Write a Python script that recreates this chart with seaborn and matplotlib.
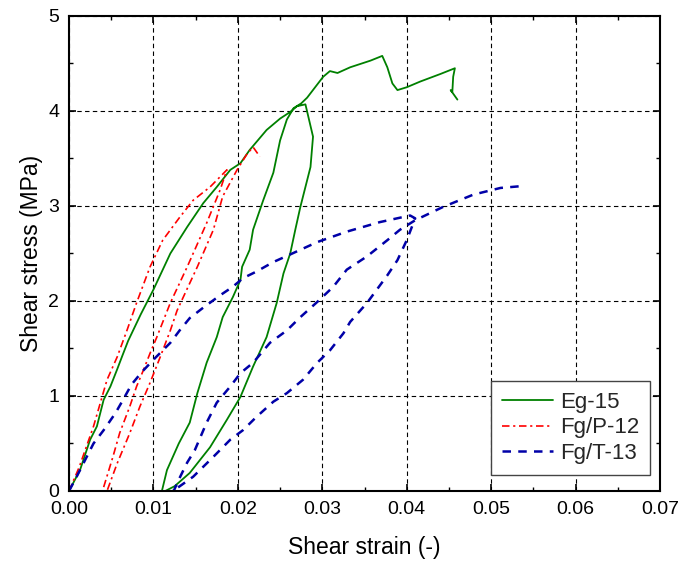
import numpy as np
import pandas as pd
import matplotlib
matplotlib.use("Agg")
import matplotlib.pyplot as plt
from matplotlib.ticker import MultipleLocator, FormatStrFormatter
import seaborn as sns

# ---- data ----
eg15_strain = [0, 0.0013, 0.0025, 0.0033, 0.0037, 0.0041, 0.0049, 0.0057, 0.0063, 0.0070,
               0.0085, 0.0100, 0.0120, 0.0140, 0.0159, 0.0175, 0.0191, 0.0203, 0.0214, 0.0234,
               0.0250, 0.0262, 0.0270, 0.0280,
               0.0289, 0.0286, 0.0274, 0.0268, 0.0262, 0.0254, 0.0246, 0.0234, 0.0218, 0.0203,
               0.0187, 0.0167, 0.0143, 0.0125, 0.0114,
               0.0110, 0.0116, 0.0130, 0.0143, 0.0152, 0.0163, 0.0175, 0.0182, 0.0194, 0.0203,
               0.0205, 0.0214, 0.0218, 0.0230, 0.0242, 0.0250, 0.0258, 0.0266, 0.0275,
               0.0282, 0.0301, 0.0309, 0.0318, 0.0333, 0.0357, 0.0371, 0.0377, 0.0383, 0.0389,
               0.0400, 0.0416, 0.0440, 0.0457, 0.0455, 0.0454, 0.0452, 0.0460]
eg15_stress = [0, 0.22, 0.54, 0.68, 0.82, 0.96, 1.10, 1.28, 1.42, 1.58,
               1.86, 2.12, 2.50, 2.78, 3.03, 3.20, 3.38, 3.45, 3.59, 3.80,
               3.92, 3.99, 4.05, 4.07,
               3.73, 3.41, 2.99, 2.75, 2.50, 2.29, 1.98, 1.62, 1.31, 0.99,
               0.75, 0.46, 0.19, 0.05, 0.00,
               0.00, 0.22, 0.50, 0.72, 1.03, 1.35, 1.62, 1.83, 2.04, 2.22,
               2.36, 2.54, 2.75, 3.06, 3.35, 3.69, 3.91, 4.03, 4.08,
               4.14, 4.36, 4.42, 4.40, 4.46, 4.53, 4.58, 4.46, 4.29, 4.22,
               4.25, 4.31, 4.39, 4.45, 4.36, 4.20, 4.22, 4.12]

fgp12_strain = [0, 0.0012, 0.0029, 0.0045, 0.0057, 0.0069, 0.0080, 0.0096, 0.0111, 0.0131,
                0.0147, 0.0167, 0.0187,
                0.0179, 0.0163, 0.0140, 0.0120, 0.0104, 0.0096, 0.0088, 0.0080, 0.0072, 0.0060,
                0.0052, 0.0041, 0.0040,
                0.0045, 0.0057, 0.0072, 0.0084, 0.0096, 0.0108, 0.0120, 0.0128, 0.0152, 0.0171,
                0.0182, 0.0199, 0.0211, 0.0218, 0.0226]
fgp12_stress = [0, 0.25, 0.68, 1.17, 1.41, 1.70, 1.98, 2.36, 2.64, 2.88,
                3.06, 3.20, 3.38,
                3.17, 2.82, 2.36, 1.98, 1.62, 1.45, 1.27, 1.10, 0.89, 0.61,
                0.36, 0.04, 0.00,
                0.00, 0.29, 0.61, 0.89, 1.14, 1.41, 1.69, 1.90, 2.36, 2.75,
                3.10, 3.38, 3.55, 3.62, 3.52]

fgt13_strain = [0, 0.0009, 0.0021, 0.0029, 0.0041, 0.0055, 0.0064, 0.0074, 0.0086, 0.0102,
                0.0120, 0.0131, 0.0143, 0.0159, 0.0179, 0.0194, 0.0206, 0.0222, 0.0242, 0.0262,
                0.0294, 0.0329, 0.0368, 0.0404, 0.0410,
                0.0400, 0.0389, 0.0377, 0.0353, 0.0333, 0.0325, 0.0309, 0.0294, 0.0277, 0.0258,
                0.0242, 0.0222, 0.0206, 0.0191, 0.0171, 0.0147, 0.0128, 0.0122,
                0.0124, 0.0130, 0.0140, 0.0149, 0.0163, 0.0175, 0.0191, 0.0203, 0.0218, 0.0238,
                0.0258, 0.0274, 0.0294, 0.0313, 0.0329, 0.0353, 0.0377, 0.0392, 0.0410,
                0.0443, 0.0479, 0.0511, 0.0537]
fgt13_stress = [0, 0.15, 0.36, 0.50, 0.64, 0.82, 0.96, 1.12, 1.25, 1.40,
                1.56, 1.69, 1.82, 1.93, 2.06, 2.15, 2.24, 2.31, 2.41, 2.49,
                2.62, 2.73, 2.83, 2.90, 2.87,
                2.64, 2.43, 2.27, 1.98, 1.78, 1.66, 1.48, 1.35, 1.17, 1.03,
                0.94, 0.78, 0.64, 0.54, 0.36, 0.15, 0.03, 0.00,
                0.00, 0.12, 0.30, 0.43, 0.72, 0.93, 1.10, 1.24, 1.35, 1.56,
                1.69, 1.83, 1.99, 2.15, 2.33, 2.47, 2.64, 2.75, 2.85,
                2.99, 3.12, 3.19, 3.21]

series_names = ["Eg-15", "Fg/P-12", "Fg/T-13"]
x_ticks = [0.00, 0.01, 0.02, 0.03, 0.04, 0.05, 0.06, 0.07]
y_ticks = [0, 1, 2, 3, 4, 5]

sns.set_theme(style="white")
plt.rcParams['font.family'] = ['Liberation Sans', 'DejaVu Sans']

fig = plt.figure(figsize=(6.78, 5.61), dpi=100)
ax = fig.add_axes([0.1018, 0.1248, 0.8717, 0.8467])

styles = [
    dict(color="#008000", linestyle="-", linewidth=1.3),
    dict(color="#ff0000", linestyle=(0, (4.5, 2.2, 1.3, 2.2)), linewidth=1.2),
    dict(color="#0000a8", linestyle=(0, (3.4, 2.9)), linewidth=1.8),
]
datasets = [(eg15_strain, eg15_stress), (fgp12_strain, fgp12_stress), (fgt13_strain, fgt13_stress)]

for name, (xs, ys), st in zip(series_names, datasets, styles):
    df = pd.DataFrame({"strain": xs, "stress": ys})
    sns.lineplot(data=df, x="strain", y="stress", sort=False, estimator=None,
                 ax=ax, label=name, **st)

ax.set_xlim(0, 0.07)
ax.set_ylim(0, 5)
ax.set_xticks(x_ticks)
ax.set_yticks(y_ticks)
ax.xaxis.set_major_formatter(FormatStrFormatter("%.2f"))
ax.yaxis.set_major_formatter(FormatStrFormatter("%d"))
ax.xaxis.set_minor_locator(MultipleLocator(0.005))
ax.yaxis.set_minor_locator(MultipleLocator(0.5))

ax.grid(True, which="major", color="black", linestyle=(0, (4, 3)), linewidth=0.8)
ax.set_axisbelow(True)

for sp in ax.spines.values():
    sp.set_color("black")
    sp.set_linewidth(1.5)
    sp.set_visible(True)

ax.tick_params(which="both", direction="in", top=True, right=True, bottom=True, left=True,
               color="black", labelsize=14, labelcolor="black")
ax.tick_params(which="major", length=5, width=1.2, pad=7)
ax.tick_params(which="minor", length=3, width=1.0)

ax.set_xlabel("Shear strain (-)", fontsize=16.5, color="black", labelpad=13)
ax.set_ylabel("Shear stress (MPa)", fontsize=16.5, color="black", labelpad=4)

leg = ax.legend(loc="lower left", bbox_to_anchor=(0.714, 0.034), fontsize=16,
                frameon=True, fancybox=False, edgecolor="#444444", framealpha=1,
                handlelength=2.3, handletextpad=0.3, labelspacing=0.2,
                borderpad=0.5, borderaxespad=0)
leg.get_frame().set_linewidth(1.0)

fig.savefig("out.png", dpi=100)
